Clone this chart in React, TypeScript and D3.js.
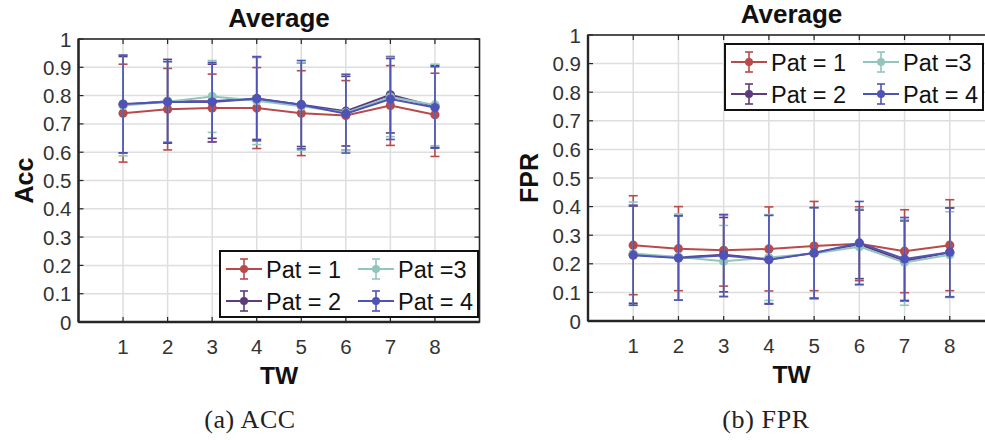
import React from "react";
import * as d3 from "d3";

// Time windows on the x axis
const TW = [1, 2, 3, 4, 5, 6, 7, 8];
const xTicks = [1, 2, 3, 4, 5, 6, 7, 8];
const yTicks = [0, 0.1, 0.2, 0.3, 0.4, 0.5, 0.6, 0.7, 0.8, 0.9, 1];

const seriesNames = ["Pat = 1", "Pat = 2", "Pat =3", "Pat = 4"];
const seriesColors = ["#b84b4a", "#5d3b7d", "#92c6bd", "#5053b6"];

// Accuracy: mean and standard deviation per time window
const accMeanPat1 = [0.738, 0.752, 0.756, 0.756, 0.738, 0.730, 0.765, 0.732];
const accStdPat1 = [0.173, 0.144, 0.12, 0.143, 0.15, 0.123, 0.141, 0.147];
const accMeanPat2 = [0.768, 0.780, 0.780, 0.790, 0.768, 0.745, 0.803, 0.762];
const accStdPat2 = [0.17, 0.148, 0.131, 0.145, 0.148, 0.123, 0.135, 0.145];
const accMeanPat3 = [0.765, 0.778, 0.797, 0.782, 0.762, 0.740, 0.795, 0.767];
const accStdPat3 = [0.178, 0.142, 0.127, 0.155, 0.155, 0.135, 0.14, 0.144];
const accMeanPat4 = [0.770, 0.777, 0.777, 0.789, 0.768, 0.736, 0.788, 0.758];
const accStdPat4 = [0.173, 0.143, 0.14, 0.149, 0.156, 0.139, 0.143, 0.144];

// False positive rate: mean and standard deviation per time window
const fprMeanPat1 = [0.265, 0.253, 0.247, 0.252, 0.262, 0.270, 0.244, 0.265];
const fprStdPat1 = [0.173, 0.147, 0.125, 0.147, 0.156, 0.129, 0.145, 0.159];
const fprMeanPat2 = [0.232, 0.222, 0.232, 0.216, 0.238, 0.268, 0.210, 0.240];
const fprStdPat2 = [0.17, 0.148, 0.13, 0.155, 0.158, 0.12, 0.14, 0.155];
const fprMeanPat3 = [0.236, 0.224, 0.209, 0.222, 0.236, 0.260, 0.205, 0.232];
const fprStdPat3 = [0.18, 0.15, 0.125, 0.15, 0.16, 0.135, 0.15, 0.15];
const fprMeanPat4 = [0.230, 0.220, 0.229, 0.214, 0.238, 0.273, 0.217, 0.240];
const fprStdPat4 = [0.175, 0.147, 0.143, 0.155, 0.159, 0.145, 0.145, 0.156];

type Series = { name: string; color: string; mean: number[]; std: number[] };

const accSeries: Series[] = [
  { name: seriesNames[0], color: seriesColors[0], mean: accMeanPat1, std: accStdPat1 },
  { name: seriesNames[1], color: seriesColors[1], mean: accMeanPat2, std: accStdPat2 },
  { name: seriesNames[2], color: seriesColors[2], mean: accMeanPat3, std: accStdPat3 },
  { name: seriesNames[3], color: seriesColors[3], mean: accMeanPat4, std: accStdPat4 },
];
const fprSeries: Series[] = [
  { name: seriesNames[0], color: seriesColors[0], mean: fprMeanPat1, std: fprStdPat1 },
  { name: seriesNames[1], color: seriesColors[1], mean: fprMeanPat2, std: fprStdPat2 },
  { name: seriesNames[2], color: seriesColors[2], mean: fprMeanPat3, std: fprStdPat3 },
  { name: seriesNames[3], color: seriesColors[3], mean: fprMeanPat4, std: fprStdPat4 },
];

const SANS = "'Liberation Sans', Arial, Helvetica, sans-serif";
const SERIF = "'Liberation Serif', 'DejaVu Serif', serif";
const AXIS = "#262626";
const TEXT = "#333333";

type PanelProps = {
  series: Series[];
  left: number;
  right: number;
  top: number;
  bottom: number;
  yLabel: string;
  yLabelX: number;
  legendX: number;
  legendY: number;
  caption: string;
  captionX: number;
};

function ErrorGlyph({ x, y, half, cap, color }: { x: number; y: number; half: number; cap: number; color: string }) {
  return (
    <g stroke={color} strokeWidth={1.6}>
      <line x1={x} x2={x} y1={y - half} y2={y + half} />
      <line x1={x - cap} x2={x + cap} y1={y - half} y2={y - half} />
      <line x1={x - cap} x2={x + cap} y1={y + half} y2={y + half} />
    </g>
  );
}

function Panel(p: PanelProps) {
  const x = d3.scaleLinear().domain([0, 9]).range([p.left, p.right]);
  const y = d3.scaleLinear().domain([0, 1]).range([p.bottom, p.top]);
  const line = d3
    .line<number>()
    .x((_, i) => x(TW[i]))
    .y((v) => y(v));
  const cx = (p.left + p.right) / 2;
  const tick = 5;

  // legend layout: two columns, column-major order
  const colW = 132;
  const rowH = 32;
  const legendW = 258;
  const legendH = 66;

  return (
    <g>
      {/* grid */}
      <g stroke="#dedede" strokeWidth={1.5}>
        {xTicks.map((t) => (
          <line key={"gx" + t} x1={x(t)} x2={x(t)} y1={p.top} y2={p.bottom} />
        ))}
        {yTicks.slice(1, -1).map((t) => (
          <line key={"gy" + t} x1={p.left} x2={p.right} y1={y(t)} y2={y(t)} />
        ))}
      </g>
      {/* ticks */}
      <g stroke={AXIS} strokeWidth={1.2}>
        {xTicks.map((t) => (
          <g key={"tx" + t}>
            <line x1={x(t)} x2={x(t)} y1={p.bottom} y2={p.bottom - tick} />
            <line x1={x(t)} x2={x(t)} y1={p.top} y2={p.top + tick} />
          </g>
        ))}
        {yTicks.map((t) => (
          <g key={"ty" + t}>
            <line x1={p.left} x2={p.left + tick} y1={y(t)} y2={y(t)} />
            <line x1={p.right} x2={p.right - tick} y1={y(t)} y2={y(t)} />
          </g>
        ))}
      </g>
      {/* data */}
      {p.series.map((s) => (
        <g key={s.name}>
          <path d={line(s.mean) || ""} fill="none" stroke={s.color} strokeWidth={2} />
          {s.mean.map((m, i) => (
            <ErrorGlyph
              key={i}
              x={x(TW[i])}
              y={y(m)}
              half={y(0) - y(s.std[i])}
              cap={4.5}
              color={s.color}
            />
          ))}
          {s.mean.map((m, i) => (
            <circle key={"c" + i} cx={x(TW[i])} cy={y(m)} r={4.6} fill={s.color} />
          ))}
        </g>
      ))}
      {/* axes box */}
      <rect
        x={p.left}
        y={p.top}
        width={p.right - p.left}
        height={p.bottom - p.top}
        fill="none"
        stroke={AXIS}
        strokeWidth={1.6}
      />
      <line x1={p.left} x2={p.left} y1={p.top} y2={p.bottom} stroke={AXIS} strokeWidth={2.4} />
      <line x1={p.left} x2={p.right} y1={p.bottom} y2={p.bottom} stroke={AXIS} strokeWidth={2.4} />
      {/* tick labels */}
      <g fontFamily={SANS} fontSize={20.5} fill={TEXT}>
        {xTicks.map((t) => (
          <text key={"lx" + t} x={x(t)} y={p.bottom + 32} textAnchor="middle">
            {t}
          </text>
        ))}
        {yTicks.map((t) => (
          <text key={"ly" + t} x={p.left - 7} y={y(t) + 7.5} textAnchor="end">
            {d3.format("~g")(t)}
          </text>
        ))}
      </g>
      {/* titles */}
      <text x={cx} y={p.top - 12} textAnchor="middle" fontFamily={SANS} fontWeight="bold" fontSize={26} fill="#111">
        Average
      </text>
      <text x={cx} y={p.bottom + 62} textAnchor="middle" fontFamily={SANS} fontWeight="bold" fontSize={24.5} fill="#111">
        TW
      </text>
      <text
        transform={`translate(${p.yLabelX},${(p.top + p.bottom) / 2}) rotate(-90)`}
        textAnchor="middle"
        fontFamily={SANS}
        fontWeight="bold"
        fontSize={25}
        fill="#111"
      >
        {p.yLabel}
      </text>
      {/* legend */}
      <g transform={`translate(${p.legendX},${p.legendY})`}>
        <rect x={0} y={0} width={legendW} height={legendH} fill="#fff" stroke="#111" strokeWidth={2} />
        {p.series.map((s, i) => {
          const col = Math.floor(i / 2);
          const row = i % 2;
          const lx = 6 + col * colW;
          const ly = 18 + row * rowH;
          return (
            <g key={"lg" + s.name}>
              <line x1={lx} x2={lx + 36} y1={ly} y2={ly} stroke={s.color} strokeWidth={2} />
              <ErrorGlyph x={lx + 18} y={ly} half={10} cap={4} color={s.color} />
              <circle cx={lx + 18} cy={ly} r={4} fill={s.color} />
              <text x={lx + 40} y={ly + 8.5} fontFamily={SANS} fontSize={23.5} fill="#111">
                {s.name}
              </text>
            </g>
          );
        })}
      </g>
      {/* caption */}
      <text
        x={p.captionX}
        y={428}
        textAnchor="middle"
        fontFamily={SERIF}
        fontSize={26}
        letterSpacing={0.6}
        fill="#222"
      >
        {p.caption}
      </text>
    </g>
  );
}

export default function App() {
  return (
    <svg
      width={985}
      height={440}
      viewBox="0 0 985 440"
      style={{ position: "absolute", left: 0, top: 0, background: "#fff" }}
    >
      <rect width={985} height={440} fill="#fff" />
      <Panel
        series={accSeries}
        left={78.5}
        right={479.5}
        top={39}
        bottom={322}
        yLabel="Acc"
        yLabelX={33}
        legendX={220}
        legendY={251}
        caption="(a) ACC"
        captionX={250}
      />
      <Panel
        series={fprSeries}
        left={588}
        right={995}
        top={35}
        bottom={321}
        yLabel="FPR"
        yLabelX={538}
        legendX={725}
        legendY={44}
        caption="(b) FPR"
        captionX={766}
      />
    </svg>
  );
}
